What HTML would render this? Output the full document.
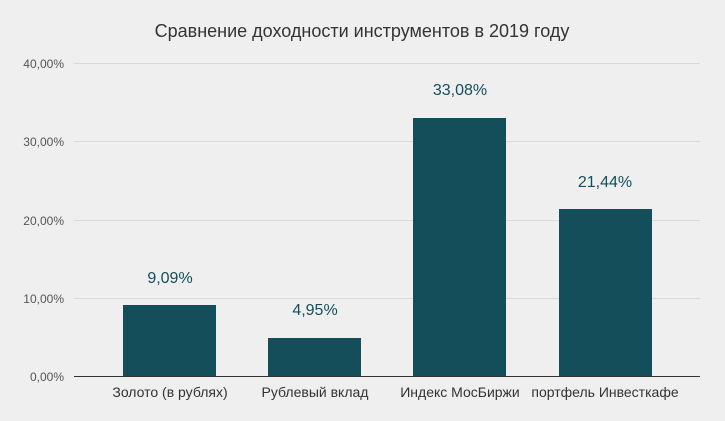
<!DOCTYPE html>
<html><head><meta charset="utf-8"><style>
body{margin:0;background:#efefef;}
svg{display:block;font-family:"Liberation Sans","DejaVu Sans",sans-serif;}
</style></head><body>
<svg width="725" height="421" xmlns="http://www.w3.org/2000/svg">
<rect width="725" height="421" fill="#efefef"/>
<text x="362" y="37" text-anchor="middle" font-size="18" fill="#333">Сравнение доходности инструментов в 2019 году</text>
<g stroke="#d9d9d9" stroke-width="1">
<line x1="74" y1="63.5" x2="700" y2="63.5"/>
<line x1="74" y1="141.5" x2="700" y2="141.5"/>
<line x1="74" y1="220.5" x2="700" y2="220.5"/>
<line x1="74" y1="298.5" x2="700" y2="298.5"/>
</g>
<line x1="74" y1="376.5" x2="700" y2="376.5" stroke="#333" stroke-width="1"/>
<g font-size="12" fill="#555" text-anchor="end">
<text x="64" y="68">40,00%</text>
<text x="64" y="146">30,00%</text>
<text x="64" y="225">20,00%</text>
<text x="64" y="303">10,00%</text>
<text x="64" y="381">0,00%</text>
</g>
<g fill="#134e5a">
<rect x="123" y="305" width="93" height="71"/>
<rect x="268" y="338" width="93" height="38"/>
<rect x="413" y="118" width="93" height="258"/>
<rect x="559" y="209" width="93" height="167"/>
</g>
<g font-size="16" fill="#134e5a" text-anchor="middle">
<text x="170" y="283">9,09%</text>
<text x="315" y="315">4,95%</text>
<text x="460" y="95">33,08%</text>
<text x="605" y="187">21,44%</text>
</g>
<g font-size="14" fill="#333" text-anchor="middle">
<text x="170" y="397">Золото (в рублях)</text>
<text x="315" y="397">Рублевый вклад</text>
<text x="460" y="397">Индекс МосБиржи</text>
<text x="605" y="397">портфель Инвесткафе</text>
</g>
</svg>
</body></html>
